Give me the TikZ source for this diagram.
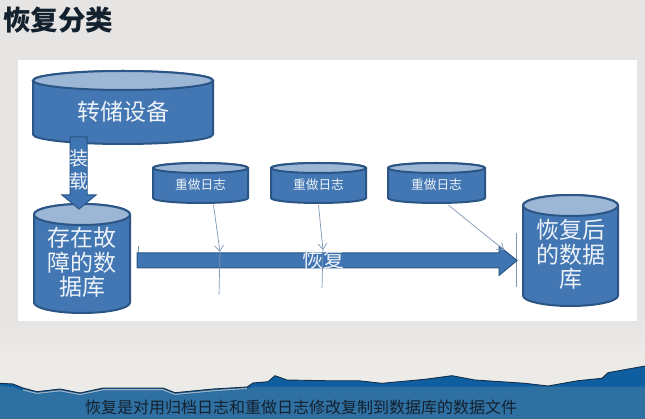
\documentclass[tikz,border=0pt]{standalone}
\usepackage{fontspec}
\setmainfont{Noto Sans CJK SC}
\usetikzlibrary{arrows.meta}
\definecolor{paper}{HTML}{E6E5E3}
\definecolor{paperlow}{HTML}{EDEBE8}
\definecolor{cylbody}{HTML}{4277B4}
\definecolor{cyltop}{HTML}{9CB6D6}
\definecolor{cylline}{HTML}{2B5585}
\definecolor{arrowblue}{HTML}{3F75B2}
\definecolor{band}{HTML}{2F70A3}
\definecolor{deepblue}{HTML}{0F5E9F}
\definecolor{tornline}{HTML}{14304A}
\definecolor{tornshade}{HTML}{9FB0BE}
\definecolor{thinline}{HTML}{7F97B5}
\definecolor{softwhite}{HTML}{EDF2F8}
\definecolor{inktext}{HTML}{13212E}
\tikzset{
  cyltext/.style={text=softwhite,align=center,inner sep=0pt},
  biglabel/.style={cyltext,font=\fontsize{23}{24.5}\selectfont},
  loglabel/.style={cyltext,font=\fontsize{12.7}{15}\selectfont},
  blockarrow/.style={fill=arrowblue,draw=cylline,line width=1pt,line join=miter},
  thinconn/.style={draw=thinline,line width=0.7pt},
  thinarrow/.style={thinconn,-{Straight Barb[length=6pt,width=9pt]}},
}
% name, x1, y1, x2, y2, ellipse ry, text style, text
\newcommand{\drumshape}[8]{%
  \pgfmathsetmacro{\rxx}{(#4-#2)/2}
  \pgfmathsetmacro{\cxx}{(#4+#2)/2}
  \pgfmathsetmacro{\cyy}{(#3+#5)/2}
  \pgfmathsetmacro{\wdd}{#4-#2}
  \pgfmathsetmacro{\htt}{#5-#3}
  \filldraw[fill=cylbody,draw=cylline,line width=2pt]
    (#2,#3+#6) -- (#2,#5-#6) arc[start angle=180,end angle=360,x radius=\rxx,y radius=-#6]
    -- (#4,#3+#6) arc[start angle=0,end angle=180,x radius=\rxx,y radius=-#6] -- cycle;
  \filldraw[fill=cyltop,draw=cylline,line width=2pt]
    (\cxx,#3+#6) ellipse[x radius=\rxx,y radius=#6];
  \node[#7,minimum width=\wdd pt,minimum height=\htt pt] (#1) at (\cxx,\cyy+#6*0.4) {#8};
}
\newcommand{\tornedge}{(0,383.3) -- (13,384) -- (23,388) -- (37,391.7) -- (60,389) -- (80,393) -- (103,388) -- (163,388) -- (175,392.7) -- (213,389) -- (247,387) -- (253,383) -- (268,381.7) -- (275,375.7) -- (287,380) -- (325,380.7) -- (358,380.7) -- (382,383.3) -- (425,379.3) -- (452,375.7) -- (475,380) -- (525,383.3) -- (548,386) -- (578,380.7) -- (602,378.3) -- (608,372.7) -- (645,366)}
\begin{document}
\begin{tikzpicture}[x=1pt,y=-1pt]
\useasboundingbox (0,0) rectangle (645,419);
% background
\fill[paper] (0,0) rectangle (645,419);
\shade[top color=paper,bottom color=paperlow] (0,321) rectangle (645,360);
\fill[paperlow] (0,360) rectangle (645,395);
\fill[white] (18,60) rectangle (637,321);
% torn lower edge and band
\fill[deepblue] \tornedge -- (645,419) -- (0,419) -- cycle;
\fill[band] (0,386) -- (13,387) -- (23,391) -- (37,394.5) -- (60,392) -- (80,396) -- (103,391) -- (163,391) -- (175,395.5) -- (213,392) -- (247,389) -- (255,386.7) -- (645,386.7) -- (645,419) -- (0,419) -- cycle;
\draw[tornshade,line width=1.2pt] (23,390) -- (37,393.4) -- (60,390.8) -- (80,394.6) -- (103,389.8) -- (163,389.8) -- (175,394.4) -- (213,390.8) -- (247,388.4);
\draw[tornline,line width=0.9pt] \tornedge;
% title and caption
\node[anchor=west,inner sep=0pt,font=\fontsize{27.5}{30}\bfseries\selectfont,text=inktext] (title) at (3,20) {恢复分类};
\node[anchor=west,inner sep=0pt,font=\fontsize{16}{18}\selectfont,text=inktext] (caption) at (85,407) {恢复是对用归档日志和重做日志修改复制到数据库的数据文件};
% free ends of the thin lines
\coordinate (t0a) at (138,246); \coordinate (t0b) at (138,255);
\coordinate (t1a) at (220,252); \coordinate (t1b) at (219,295);
\coordinate (t2a) at (323,250); \coordinate (t2b) at (322,288);
\coordinate (t3a) at (516,233); \coordinate (t3b) at (516,287);
\coordinate (t3c) at (504,250);
\draw[thinconn] (t0a) -- (t0b);
\draw[thinconn] (t3a) -- (t3b);
% recovery block arrow
\filldraw[blockarrow] (137,253) -- (499,253) -- (499,246) -- (517,260.5) -- (499,275.5) -- (499,268) -- (137,268) -- cycle;
\drumshape{dump}{33}{71}{213}{144}{9.5}{biglabel}{转储设备}
\drumshape{faulty}{34}{204}{130}{313}{10.5}{biglabel}{存在故\\障的数\\据库}
% loading block arrow
\filldraw[blockarrow] (70,137) -- (87,137) -- (87,195) -- (96,195) -- (79,209) -- (62,195) -- (70,195) -- cycle;
\drumshape{restored}{523}{195}{618}{306}{10.5}{biglabel}{恢复后\\的数据\\库}
\drumshape{logA}{153}{163}{248}{203}{5}{loglabel}{重做日志}
\drumshape{logB}{271}{163}{366}{203}{5}{loglabel}{重做日志}
\drumshape{logC}{388}{163}{485}{203}{5}{loglabel}{重做日志}
% labels on arrows
\node[cyltext,font=\fontsize{19}{23}\selectfont] (loadlabel) at (79,170) {装\\载};
\node[cyltext,font=\fontsize{21}{24}\selectfont] (recoverlabel) at (323,260) {恢复};
% thin connectors
\draw[thinarrow] ([xshift=13pt]logA.south) -- (t1a);
\draw[thinconn] (t1a) -- (t1b);
\draw[thinarrow] (logB.south) -- (t2a);
\draw[thinconn] (t2a) -- (t2b);
\draw[thinarrow] ([xshift=12pt]logC.south) -- (t3c);
\end{tikzpicture}
\end{document}
